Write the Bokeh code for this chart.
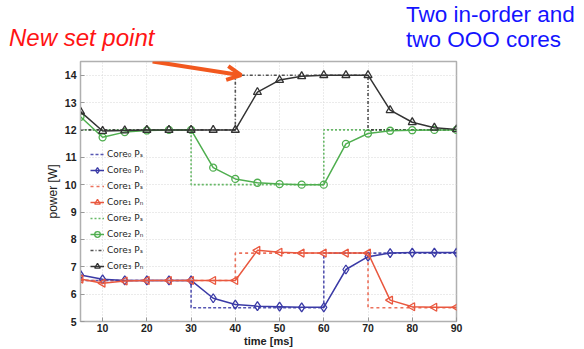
from bokeh.plotting import figure
from bokeh.layouts import column
from bokeh.models import Range1d, Arrow, OpenHead, Legend, LegendItem, FixedTicker, Div
from bokeh.embed import file_html
from bokeh.resources import INLINE

# ---- data ----
t = [5, 10, 15, 20, 25, 30, 35, 40, 45, 50, 55, 60, 65, 70, 75, 80, 85, 90]

core0_ps = [6.5, 6.5, 6.5, 6.5, 6.5, 5.5, 5.5, 5.5, 5.5, 5.5, 5.5, 7.5, 7.5, 7.5, 7.5, 7.5, 7.5, 7.5]
core0_pn = [6.70, 6.54, 6.50, 6.50, 6.50, 6.50, 5.85, 5.62, 5.56, 5.54, 5.52, 5.52, 6.90, 7.37, 7.50, 7.52, 7.52, 7.52]

core1_ps = [6.5, 6.5, 6.5, 6.5, 6.5, 6.5, 6.5, 7.5, 7.5, 7.5, 7.5, 7.5, 7.5, 5.5, 5.5, 5.5, 5.5, 5.5]
core1_pn = [6.55, 6.40, 6.48, 6.50, 6.50, 6.50, 6.50, 6.50, 7.60, 7.53, 7.50, 7.50, 7.50, 7.50, 5.78, 5.54, 5.52, 5.52]

core2_ps = [12, 12, 12, 12, 12, 10, 10, 10, 10, 10, 10, 12, 12, 12, 12, 12, 12, 12]
core2_pn = [12.48, 11.73, 11.92, 11.98, 12.00, 12.00, 10.62, 10.21, 10.07, 10.02, 10.00, 10.00, 11.49, 11.87, 11.97, 11.99, 12.00, 12.00]

core3_ps = [12, 12, 12, 12, 12, 12, 12, 14, 14, 14, 14, 14, 14, 12, 12, 12, 12, 12]
core3_pn = [12.67, 11.96, 11.98, 12.00, 12.00, 12.00, 12.00, 12.00, 13.38, 13.82, 13.96, 14.00, 14.00, 14.00, 12.72, 12.28, 12.08, 12.02]

x_ticks = [10, 20, 30, 40, 50, 60, 70, 80, 90]
y_ticks = [5, 6, 7, 8, 9, 10, 11, 12, 13, 14]

names = ["Core\u2080", "Core\u2081", "Core\u2082", "Core\u2083"]

header_texts = ["New set point", "Two in-order and", "two OOO cores"]

BLUE = "#3a3aa6"
RED = "#e9583f"
GREEN = "#4fae4f"
BLACK = "#333333"

HEADER_H = 52

# ---- header (annotation texts above the chart) ----
span = ('<span style="position:absolute;left:{l}px;top:{t}px;font-size:{s}px;line-height:{lh}px;'
        'font-style:{fs};color:{c};white-space:nowrap;">{txt}</span>')
html = ('<div style="position:relative;width:584px;height:%dpx;font-family:\'Liberation Sans\',Arial,sans-serif;">' % HEADER_H
        + span.format(l=9, t=26.5, s=24, lh=22, fs="italic", c="#ff1414", txt=header_texts[0])
        + span.format(l=406, t=1.5, s=22.5, lh=25, fs="normal", c="#1414ff",
                      txt=header_texts[1] + "<br>" + header_texts[2])
        + '</div>')
header = Div(text=html, width=584, height=HEADER_H, margin=(0, 0, 0, 0))

# ---- main chart ----
p = figure(width=584, height=349 - HEADER_H, output_backend="svg", toolbar_location=None,
           x_range=Range1d(5, 90), y_range=Range1d(5, 14.5),
           min_border_left=80, min_border_right=128, min_border_top=61 - HEADER_H,
           min_border_bottom=27)
p.background_fill_color = "white"
p.border_fill_color = "white"
p.outline_line_color = "#b0b0b0"
p.outline_line_width = 1.5

for ax in (p.xaxis[0], p.yaxis[0]):
    ax.axis_line_color = "#b0b0b0"
    ax.major_tick_line_color = "#999999"
    ax.major_tick_in = 4
    ax.major_tick_out = 0
    ax.minor_tick_line_color = None
    ax.major_label_text_font = "Liberation Sans"
    ax.major_label_text_font_style = "bold"
    ax.major_label_text_font_size = "10.5px"
    ax.major_label_text_color = "#222222"
    ax.axis_label_text_font = "Liberation Sans"
    ax.axis_label_text_color = "#222222"

p.xaxis.ticker = FixedTicker(ticks=x_ticks)
p.yaxis.ticker = FixedTicker(ticks=y_ticks)
p.xaxis.major_label_standoff = 2
p.yaxis.major_label_standoff = 4
p.yaxis.axis_label = "power [W]"
p.yaxis.axis_label_text_font_style = "normal"
p.yaxis.axis_label_text_font_size = "12px"
p.yaxis.axis_label_standoff = 2
p.xaxis.axis_label = "time [ms]"
p.xaxis.axis_label_text_font_style = "bold"
p.xaxis.axis_label_text_font_size = "11px"
p.xaxis.axis_label_standoff = 0

p.xgrid.ticker = FixedTicker(ticks=x_ticks)
p.ygrid.ticker = FixedTicker(ticks=y_ticks)
for g in (p.xgrid[0], p.ygrid[0]):
    g.grid_line_color = "#d6d6d6"
    g.grid_line_dash = "1 2"

ps_series = [core0_ps, core1_ps, core2_ps, core3_ps]
pn_series = [core0_pn, core1_pn, core2_pn, core3_pn]
colors = [BLUE, RED, GREEN, BLACK]
dashes = ["3 2", "3 3", "2 2", "3 2 1 2"]
markers = [("diamond", 0.0, 9), ("triangle", 1.5708, 8), ("circle", 0.0, 7), ("triangle", 0.0, 8)]

ps_r = []
for ps, c, d in zip(ps_series, colors, dashes):
    r = p.step(t, ps, mode="after", line_color=c, line_dash=d, line_width=1.6, line_alpha=0.85)
    ps_r.append(r)

pn_r = []
for pn, c, (m, a, s) in zip(pn_series, colors, markers):
    ln = p.line(t, pn, line_color=c, line_width=1.5)
    sc = p.scatter(t, pn, marker=m, angle=a, size=s, line_color=c, line_width=1.3,
                   fill_color=None)
    pn_r.append([ln, sc])

items = []
for i in range(4):
    items.append(LegendItem(label=names[i] + " P\u209b", renderers=[ps_r[i]]))
    items.append(LegendItem(label=names[i] + " P\u2099", renderers=pn_r[i]))

legend = Legend(items=items, location=(10, 47), label_text_font_size="9px",
                label_text_font="DejaVu Sans", label_text_color="#222222",
                label_height=16, glyph_height=16, glyph_width=14, spacing=0,
                padding=0, margin=0, label_standoff=3,
                border_line_color=None, background_fill_alpha=0)
p.add_layout(legend, "center")

p.add_layout(Arrow(x_start=21.3, y_start=14.5, x_end=41.3, y_end=14.0,
                   line_color="#f2581e", line_width=4,
                   end=OpenHead(size=14, line_width=4, line_color="#f2581e")))

layout = column(header, p, spacing=0)
open("out.html", "w").write(file_html(layout, INLINE))
